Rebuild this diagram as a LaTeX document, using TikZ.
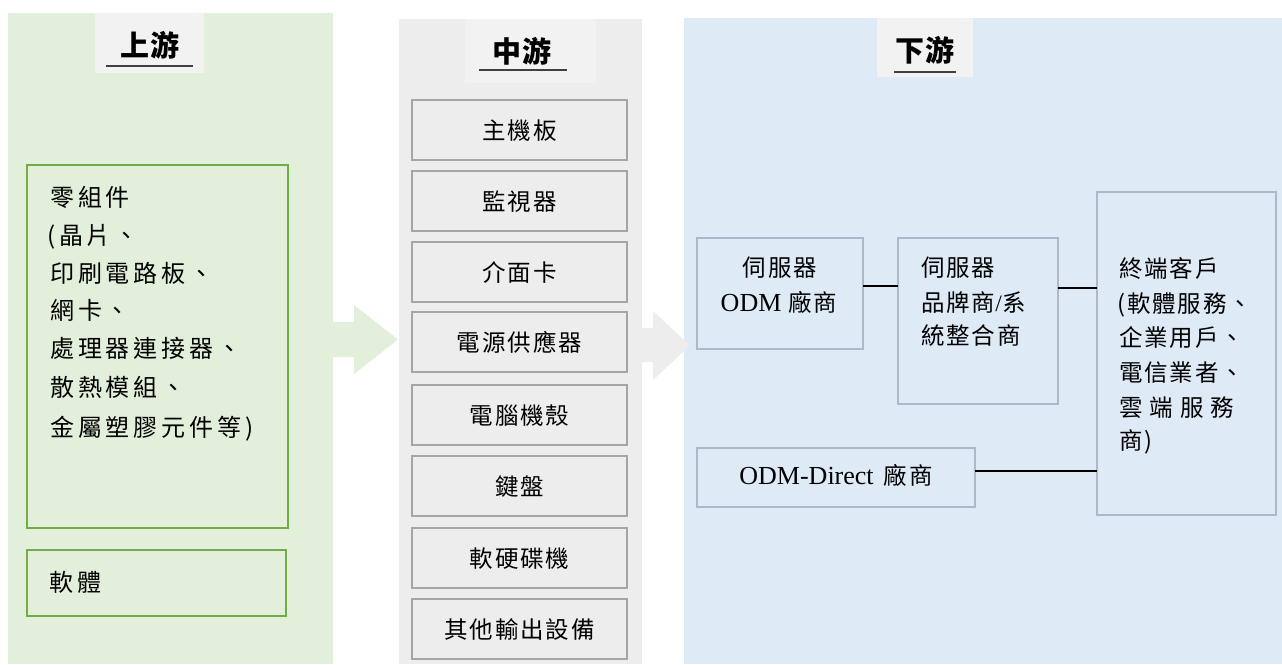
\documentclass[tikz,border=0pt]{standalone}
\usepackage{fontspec}
\setmainfont{Liberation Serif}
\newfontfamily\cjk[LetterSpace=8]{Noto Sans CJK TC}
\newfontfamily\cjkw[LetterSpace=16]{Noto Sans CJK TC}
\newfontfamily\cjkh[LetterSpace=4]{Noto Sans CJK TC}
\definecolor{pgreen}{HTML}{E2EFDA}
\definecolor{bgreen}{HTML}{70AD47}
\definecolor{pgray}{HTML}{EDEDED}
\definecolor{bgray}{HTML}{A5A5A5}
\definecolor{pblue}{HTML}{DEEAF6}
\definecolor{bblue}{HTML}{ADB9CA}
\definecolor{hdr}{HTML}{F2F2F2}
\definecolor{uline}{HTML}{404040}
\begin{document}
\begin{tikzpicture}[x=1pt,y=-1pt,
  panel/.style={draw=none,inner sep=0pt,outer sep=0pt,anchor=north west},
  hbox/.style={fill=hdr,draw=none,inner sep=0pt,outer sep=0pt,anchor=north west},
  htxt/.style={inner sep=0pt,font=\cjkh\bfseries\fontsize{29}{30}\selectfont},
  gbox/.style={draw=bgreen,line width=2pt,inner sep=0pt,outer sep=0pt,anchor=north west},
  mbox/.style={draw=bgray,fill=pgray,line width=2pt,inner sep=0pt,outer sep=0pt,anchor=north west,minimum width=215pt,minimum height=60pt},
  bbox/.style={draw=bblue,line width=2pt,inner sep=0pt,outer sep=0pt,anchor=north west},
  ltxt/.style={inner sep=0pt,anchor=west,text height=21pt,text depth=3pt,font=\cjkw\fontsize{24}{28}\selectfont},
  mtxt/.style={inner sep=0pt,text height=21pt,text depth=3pt,font=\cjk\fontsize{23.5}{28}\selectfont},
  rtxt/.style={inner sep=0pt,text height=21pt,text depth=3pt,font=\cjk\fontsize{23.5}{28}\selectfont},
  link/.style={draw=black,line width=1.2pt}]
\useasboundingbox (0,0) rectangle (1282,664);
\fill[white] (0,0) rectangle (1282,664);
% panels
\node[panel,fill=pgreen,minimum width=325pt,minimum height=651pt] (up) at (8,13) {};
\node[panel,fill=pgray,minimum width=243pt,minimum height=645pt] (mid) at (399,19) {};
\node[panel,fill=pblue,minimum width=598pt,minimum height=646pt] (down) at (684,18) {};
% arrows
\fill[pgreen] (325,322) -- (354,322) -- (354,305) -- (398,339.5) -- (354,374) -- (354,357) -- (325,357) -- cycle;
\fill[pgray] (636,328) -- (653,328) -- (653,311) -- (690,345.5) -- (653,380) -- (653,362) -- (636,362) -- cycle;
% headers
\node[hbox,minimum width=109pt,minimum height=60pt] (hup) at (95,13) {};
\node[htxt] (hupt) at (150,45) {上游};
\draw[uline,line width=1.5pt] (106,66) -- (193,66);
\node[hbox,minimum width=131pt,minimum height=64pt] (hmid) at (465,19) {};
\node[htxt] (hmidt) at (522,51) {中游};
\draw[uline,line width=1.5pt] (479,70) -- (567,70);
\node[hbox,minimum width=96pt,minimum height=59pt] (hdown) at (877,18) {};
\node[htxt] (hdownt) at (925,50) {下游};
\draw[uline,line width=1.5pt] (894,72) -- (956,72);
% upstream boxes
\node[gbox,minimum width=261pt,minimum height=363pt] (parts) at (27,165) {};
\node[ltxt] (p1) at (50,197) {零組件};
\node[ltxt] (p2) at (47,235) {(晶片、};
\node[ltxt] (p3) at (50,273) {印刷電路板、};
\node[ltxt] (p4) at (50,310) {網卡、};
\node[ltxt] (p5) at (50,348) {處理器連接器、};
\node[ltxt] (p6) at (50,387) {散熱模組、};
\node[ltxt] (p7) at (50,427) {金屬塑膠元件等)};
\node[gbox,minimum width=259pt,minimum height=66pt] (soft) at (27,550) {};
\node[ltxt] (softt) at (49,582) {軟體};
% midstream boxes
\node[mbox] (m1) at (412,100) {};
\node[mtxt] (m1t) at (m1.center) {主機板};
\node[mbox] (m2) at (412,171) {};
\node[mtxt] (m2t) at (m2.center) {監視器};
\node[mbox] (m3) at (412,242) {};
\node[mtxt] (m3t) at (m3.center) {介面卡};
\node[mbox] (m4) at (412,312) {};
\node[mtxt] (m4t) at (m4.center) {電源供應器};
\node[mbox] (m5) at (412,385) {};
\node[mtxt] (m5t) at (m5.center) {電腦機殼};
\node[mbox] (m6) at (412,456) {};
\node[mtxt] (m6t) at (m6.center) {鍵盤};
\node[mbox] (m7) at (412,528) {};
\node[mtxt] (m7t) at (m7.center) {軟硬碟機};
\node[mbox] (m8) at (412,599) {};
\node[mtxt] (m8t) at (m8.center) {其他輸出設備};
% downstream boxes
\node[bbox,minimum width=166pt,minimum height=111pt] (odm) at (697,238) {};
\node[rtxt] (odm1) at (780,267) {伺服器};
\node[rtxt] (odm2) at (779,302) {{\rmfamily\fontsize{26}{26}\selectfont ODM}\hspace{7pt}廠商};
\node[bbox,minimum width=160pt,minimum height=166pt] (brand) at (898,238) {};
\node[rtxt,anchor=west] (br1) at (921,267) {伺服器};
\node[rtxt,anchor=west] (br2) at (921,302) {品牌商{\rmfamily /}系};
\node[rtxt,anchor=west] (br3) at (921,335) {統整合商};
\node[bbox,minimum width=179pt,minimum height=323pt] (end) at (1097,192) {};
\node[rtxt,anchor=west] (e1) at (1119,268) {終端客戶};
\node[rtxt,anchor=west] (e2) at (1117,303) {(軟體服務、};
\node[rtxt,anchor=west] (e3) at (1119,337) {企業用戶、};
\node[rtxt,anchor=west] (e4) at (1119,372) {電信業者、};
\node[rtxt,anchor=west] (e5) at (1119,407) {雲\hspace{7pt}端\hspace{7pt}服\hspace{7pt}務};
\node[rtxt,anchor=west] (e6) at (1119,440) {商)};
\node[bbox,minimum width=278pt,minimum height=59pt] (direct) at (697,448) {};
\node[rtxt] (dt) at (836,475) {{\rmfamily\fontsize{26}{26}\selectfont ODM-Direct}\hspace{10pt}廠商};
% connectors
\draw[link] (odm.east |- 0,286) -- (brand.west |- 0,286);
\draw[link] (brand.east |- 0,288) -- (end.west |- 0,288);
\draw[link] (direct.east |- 0,471) -- (end.west |- 0,471);
\end{tikzpicture}
\end{document}
